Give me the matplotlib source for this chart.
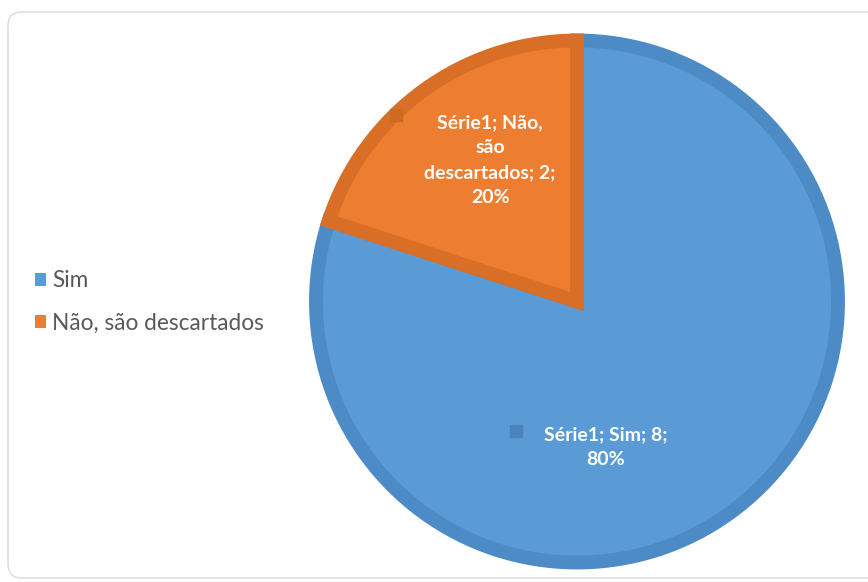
import matplotlib.pyplot as plt
from matplotlib.patches import FancyBboxPatch, Patch
from matplotlib.transforms import IdentityTransform

plt.rcParams['font.family'] = ['Lato', 'DejaVu Sans']

# Data
categories = ['Sim', 'Não, são descartados']
values = [8, 2]
series_name = 'Série1'
label_wrapped = ['Sim', 'Não,\nsão\ndescartados']

fill_colors = ['#5B9BD5', '#ED7D31']
edge_colors = ['#4D8BC7', '#D96F27']
key_colors = ['#4A84BC', '#CF6A24']

W, H = 868, 582
fig = plt.figure(figsize=(W / 100, H / 100), dpi=100)

# rounded chart frame
frame = FancyBboxPatch((8, 4), 880, 566, boxstyle='round,pad=0,rounding_size=14',
                       transform=IdentityTransform(), facecolor='none',
                       edgecolor='#D9D9D9', linewidth=1.0, zorder=-1)
fig.patches.append(frame)

# pie axes: centre (577, 301.5) px, radius 261 px
cx, cy, r = 577, 301.5, 261
ax = fig.add_axes([(cx - r) / W, (H - cy - r) / H, 2 * r / W, 2 * r / H])
wedges, _ = ax.pie(values, colors=fill_colors, startangle=90, counterclock=False,
                   radius=1.0)
for w, ec in zip(wedges, edge_colors):
    w.set_edgecolor(ec)
    w.set_linewidth(10)
    w.set_clip_path(w)
ax.set_xlim(-1, 1)
ax.set_ylim(-1, 1)
ax.set_aspect('equal')
ax.axis('off')

# data labels
total = sum(values)
label_pos = [(0.111, -0.559), (-0.333, 0.542)]
key_pos = [(-0.234, -0.496), (-0.693, 0.715)]
for i, v in enumerate(values):
    pct = round(100 * v / total)
    txt = f'{series_name}; {label_wrapped[i]}; {v};\n{pct}%'
    ax.text(*label_pos[i], txt, ha='center', va='center', color='white',
            fontsize=14, fontweight='bold', linespacing=1.55)
    ax.plot(*key_pos[i], marker='s', markersize=8.5, color=key_colors[i],
            linestyle='none', clip_on=False)

# legend
handles = [Patch(facecolor=c, edgecolor='none') for c in fill_colors]
fig.legend(handles, categories, loc='center left', bbox_to_anchor=(0.017, 0.481),
           frameon=False, fontsize=16.3, labelcolor='#595959', handlelength=0.5,
           handleheight=0.5, handletextpad=0.25, labelspacing=0.95)

fig.savefig('out.png', dpi=100)
